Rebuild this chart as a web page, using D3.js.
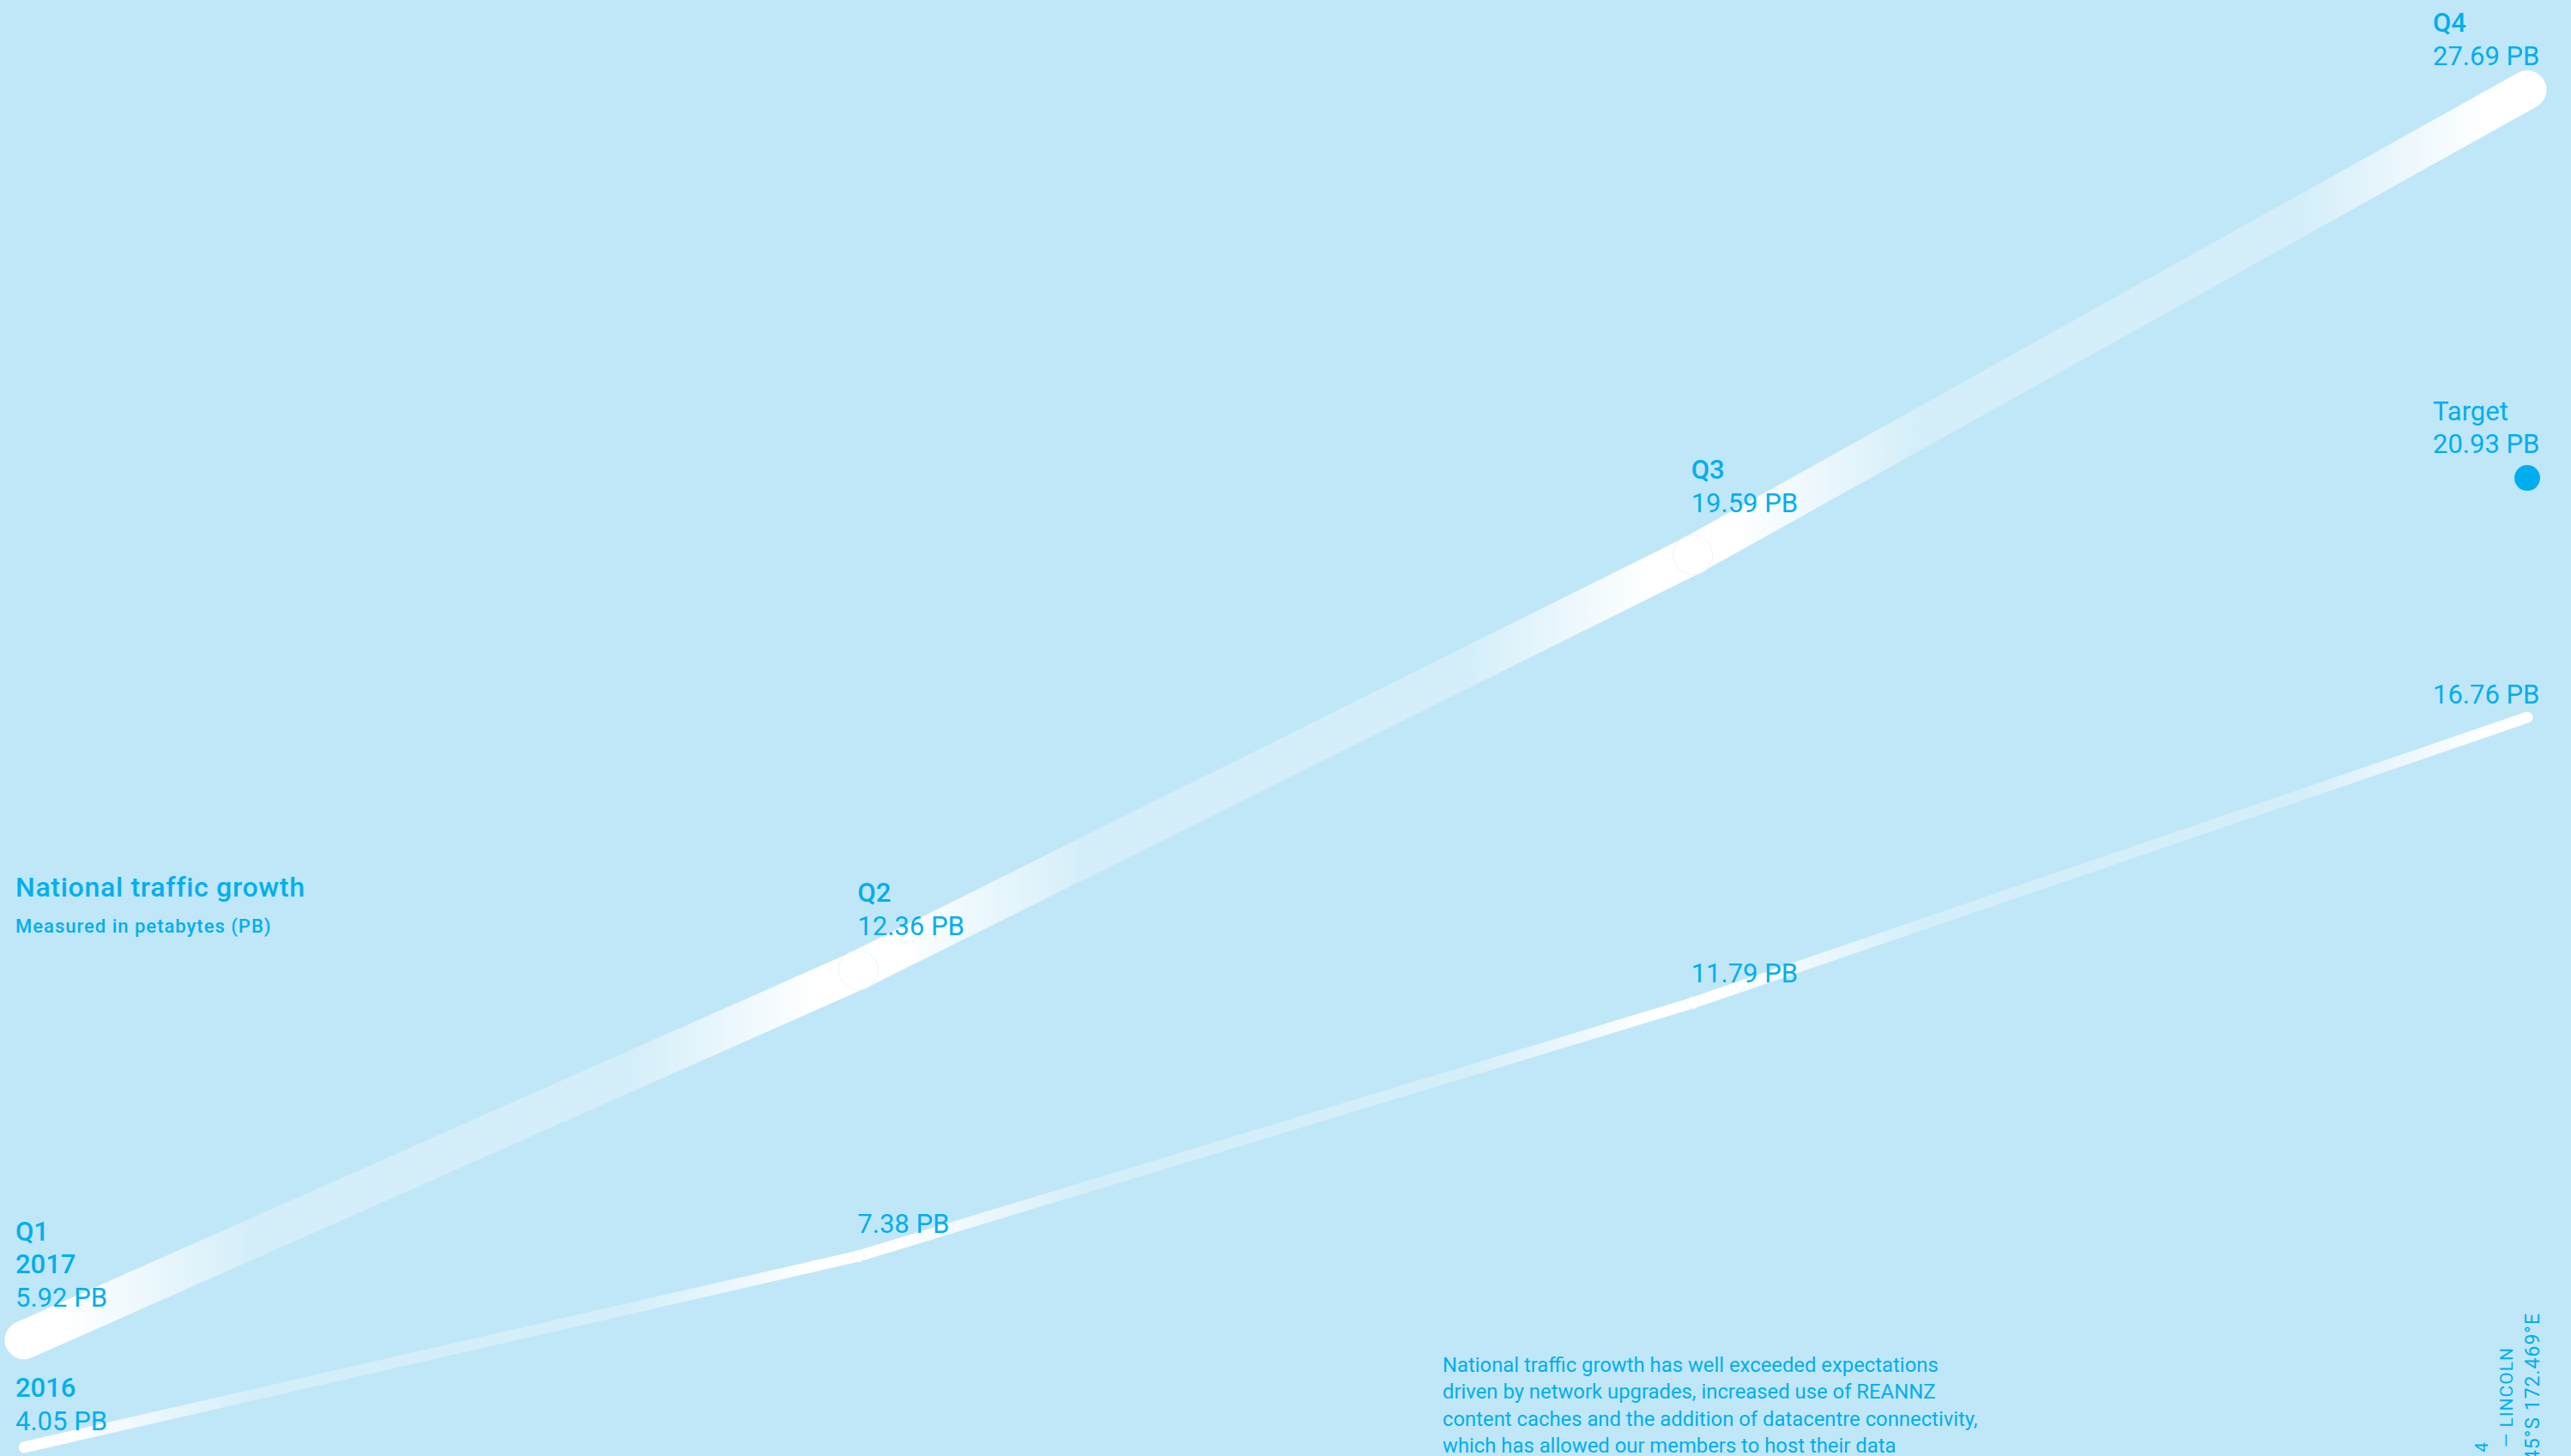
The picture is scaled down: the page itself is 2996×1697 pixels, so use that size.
<!DOCTYPE html>
<html>
<head>
<meta charset="utf-8">
<script src="https://cdn.jsdelivr.net/npm/d3@7"></script>
<style>
  html, body { margin: 0; padding: 0; overflow: hidden; background: #c0e7f7; }
  svg { display: block; }
  text { font-family: Roboto, "Open Sans", sans-serif; fill: #00aeef; }
</style>
</head>
<body>
<svg id="chart" width="2996" height="1697"></svg>
<script>
// ---- data ----
const quarters = ["Q1", "Q2", "Q3", "Q4"];
const traffic2017 = [5.92, 12.36, 19.59, 27.69];
const traffic2016 = [4.05, 7.38, 11.79, 16.76];
const targetValue = 20.93;
const titleText = "National traffic growth";
const subtitleText = "Measured in petabytes (PB)";
const bodyLines = [
  "National traffic growth has well exceeded expectations",
  "driven by network upgrades, increased use of REANNZ",
  "content caches and the addition of datacentre connectivity,",
  "which has allowed our members to host their data"
];
const sideLines = ["4", "— LINCOLN", "43.645°S 172.469°E"];

// ---- layout ----
const W = 2996, H = 1697;
const svg = d3.select("#chart");
svg.append("rect").attr("width", W).attr("height", H).attr("fill", "#c0e7f7");

const x = d3.scalePoint().domain(quarters).range([28, 2945]);
const y = d3.scaleLinear().domain([0, 30]).range([1958, -50]);
const fmt = v => d3.format(".2f")(v) + " PB";

const defs = svg.append("defs");
let gid = 0;
function drawSeries(values, width) {
  const g = svg.append("g");
  for (let i = 0; i < values.length - 1; i++) {
    const x1 = x(quarters[i]), x2 = x(quarters[i + 1]);
    const id = "grad" + (gid++);
    const grad = defs.append("linearGradient").attr("id", id)
      .attr("gradientUnits", "userSpaceOnUse")
      .attr("x1", x1).attr("x2", x2).attr("y1", 0).attr("y2", 0);
    [[0, 1], [0.05, 1], [0.27, 0.32], [0.73, 0.32], [0.95, 1], [1, 1]].forEach(([o, a]) =>
      grad.append("stop").attr("offset", o).attr("stop-color", "#ffffff").attr("stop-opacity", a));
    g.append("line")
      .attr("x1", x1).attr("y1", y(values[i]))
      .attr("x2", x2).attr("y2", y(values[i + 1]))
      .attr("stroke", `url(#${id})`)
      .attr("stroke-width", width)
      .attr("stroke-linecap", "round");
  }
  g.selectAll("circle.joint")
    .data(values.slice(1, -1).map((v, i) => ({ q: quarters[i + 1], v })))
    .join("circle")
    .attr("class", "joint")
    .attr("cx", d => x(d.q)).attr("cy", d => y(d.v))
    .attr("r", width / 2 + 0.5)
    .attr("fill", "#ffffff")
    .attr("stroke", "#eef5f8").attr("stroke-width", 1);
}
drawSeries(traffic2016, 13);
drawSeries(traffic2017, 45);

// target dot
svg.append("circle")
  .attr("cx", x("Q4")).attr("cy", y(targetValue)).attr("r", 15)
  .attr("fill", "#00aeef");

// ---- labels ----
const labelDx = [-10, -1, -2, -110];
const dy2017 = [-39, -41, -50, -29];
const dy2016 = [-20, -27, -24, -16];
const lineStep = 38.5;
const fs = 31;

function label(xp, baseline, lines) {
  const n = lines.length;
  lines.forEach(([t, bold], k) => {
    svg.append("text")
      .attr("x", xp)
      .attr("y", baseline - (n - 1 - k) * lineStep)
      .attr("font-size", fs)
      .attr("font-weight", bold ? 500 : 400)
      .text(t);
  });
}

traffic2017.forEach((v, i) => {
  const head = i === 0 ? [[quarters[i], true], ["2017", true]] : [[quarters[i], true]];
  label(x(quarters[i]) + labelDx[i], y(v) + dy2017[i], head.concat([[fmt(v), false]]));
});
traffic2016.forEach((v, i) => {
  const head = i === 0 ? [["2016", true]] : [];
  label(x(quarters[i]) + labelDx[i], y(v) + dy2016[i], head.concat([[fmt(v), false]]));
});
label(x("Q4") + labelDx[3], y(targetValue) - 29, [["Target", false], [fmt(targetValue), false]]);

// ---- title ----
svg.append("text").attr("x", 18).attr("y", 1045)
  .attr("font-size", 32).attr("font-weight", 500).attr("letter-spacing", 0.7).text(titleText);
svg.append("text").attr("x", 18).attr("y", 1087)
  .attr("font-size", 22).attr("font-weight", 500).attr("letter-spacing", 1).text(subtitleText);

// ---- body paragraph ----
const para = svg.append("g");
const paraTexts = bodyLines.map((t, i) =>
  para.append("text").attr("x", 0).attr("y", 1599 + i * 31.3)
    .attr("font-size", 24).attr("font-weight", 400).text(t));
const w3 = paraTexts[2].node().getComputedTextLength();
const k = 624 / w3;
para.attr("transform", `translate(1681,0) scale(${k},1)`);

// ---- vertical side text ----
const sideX = [2899, 2928, 2959];
const sideEnd = [1680, 1570, 1530];
const sideSize = [21, 21, 23];
sideLines.forEach((t, i) => {
  svg.append("text")
    .attr("transform", `translate(${sideX[i]},${sideEnd[i]}) rotate(-90)`)
    .attr("text-anchor", "end")
    .attr("font-size", sideSize[i])
    .attr("letter-spacing", 1)
    .text(t);
});
</script>
</body>
</html>
